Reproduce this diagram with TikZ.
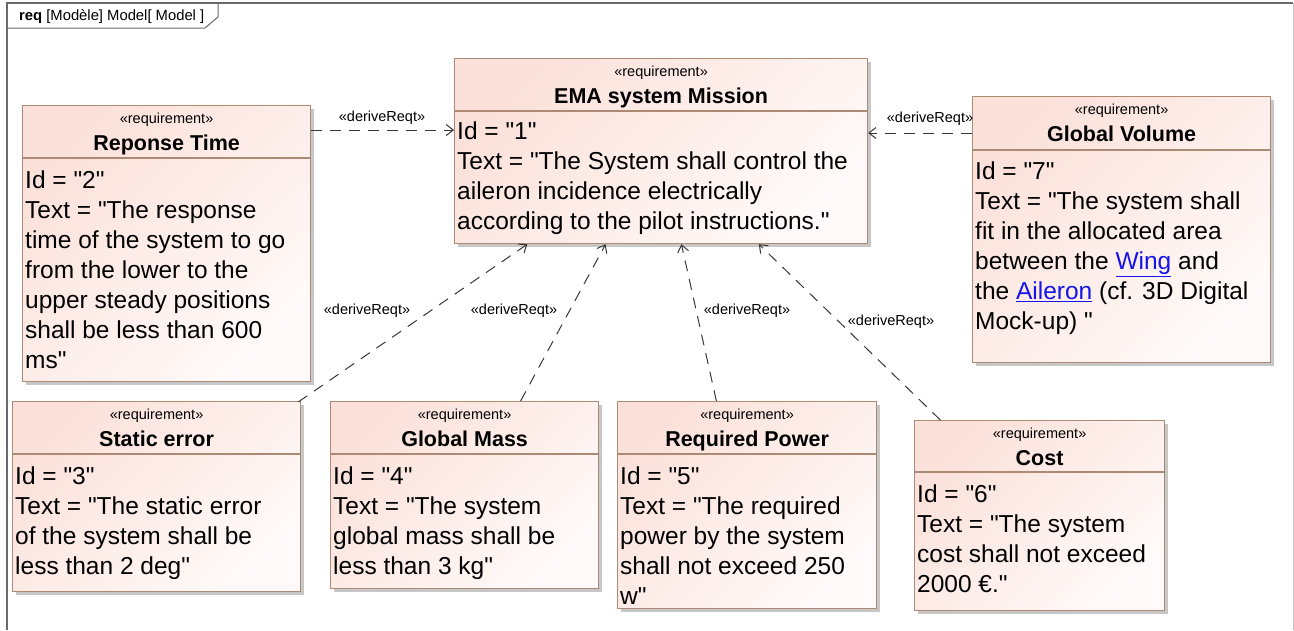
\documentclass[tikz,border=0pt]{standalone}
\usepackage{fontspec}
\setmainfont{Liberation Sans}[Ligatures=TeXOff]
\usetikzlibrary{arrows.meta, positioning, shadows, calc}

\definecolor{reqpink}{RGB}{251,225,218}
\definecolor{reqpale}{RGB}{255,250,249}
\definecolor{reqedge}{RGB}{172,138,116}
\definecolor{linkgray}{RGB}{55,55,55}
\definecolor{framegray}{RGB}{105,105,105}
\definecolor{hyperblue}{RGB}{20,20,235}

\tikzset{
  reqbox/.style={draw=reqedge, line width=1.2pt, top color=reqpink,
    bottom color=reqpale, shading angle=45, anchor=north west, inner sep=0pt,
    drop shadow={shadow xshift=3pt, shadow yshift=-3pt, fill=black!22, opacity=1}},
  divider/.style={draw=reqedge, line width=1.2pt},
  stereo/.style={anchor=base, inner sep=0pt, font=\fontsize{14.5}{16}\selectfont},
  rtitle/.style={anchor=base, inner sep=0pt, font=\bfseries\fontsize{21.5}{24}\selectfont},
  rbody/.style={anchor=north west, inner sep=0pt, align=left,
    font=\fontsize{24.5}{30}\selectfont, execute at begin node=\strut},
  derive/.style={draw=linkgray, line width=1pt, dash pattern=on 11pt off 8pt,
    -{Straight Barb[length=7pt,width=11pt]}},
  lbl/.style={inner sep=1pt, font=\fontsize{14.5}{16}\selectfont}
}

\newcommand{\hlink}[1]{\textcolor{hyperblue}{\underline{#1}}}

\begin{document}
\begin{tikzpicture}[x=1pt, y=-1pt]
  \useasboundingbox (0,0) rectangle (1294,630);

  % diagram frame and its tab
  \draw[framegray, line width=1.6pt] (7,630) -- (7,3) -- (1293,3);
  \draw[black!22, line width=1pt] (1293,3) -- (1293,630);
  \draw[framegray, line width=1pt] (7,28) -- (205,28) -- (218,17) -- (218,3);
  \node[anchor=base west, inner sep=0pt, font=\fontsize{14.8}{16}\selectfont] (hdr) at (19,20)
    {\textbf{req} [Modèle] Model[ Model ]};

  % EMA system Mission
  \node[reqbox, minimum width=413pt, minimum height=185pt] (ema) at (454,58) {};
  \draw[divider] ($(ema.north west)+(0,53)$) -- ($(ema.north east)+(0,53)$);
  \node[stereo] (emaS) at ($(ema.north)+(0,18)$) {«requirement»};
  \node[rtitle] (emaT) at ($(ema.north)+(0,45)$) {EMA system Mission};
  \node[rbody] (emaB) at ($(ema.north west)+(3,64)$)
    {Id = "1"\\Text = "The System shall control the\\aileron incidence electrically\\according to the pilot instructions."};

  % Reponse Time
  \node[reqbox, minimum width=288pt, minimum height=276pt] (rt) at (22,105) {};
  \draw[divider] ($(rt.north west)+(0,53)$) -- ($(rt.north east)+(0,53)$);
  \node[stereo] (rtS) at ($(rt.north)+(0,18)$) {«requirement»};
  \node[rtitle] (rtT) at ($(rt.north)+(0,45)$) {Reponse Time};
  \node[rbody] (rtB) at ($(rt.north west)+(3,66)$)
    {Id = "2"\\Text = "The response\\time of the system to go\\from the lower to the\\upper steady positions\\shall be less than 600\\ms"};

  % Global Volume
  \node[reqbox, minimum width=298pt, minimum height=266pt] (gv) at (972,96) {};
  \draw[divider] ($(gv.north west)+(0,54)$) -- ($(gv.north east)+(0,54)$);
  \node[stereo] (gvS) at ($(gv.north)+(0,18)$) {«requirement»};
  \node[rtitle] (gvT) at ($(gv.north)+(0,45)$) {Global Volume};
  \node[rbody] (gvB) at ($(gv.north west)+(3,66)$)
    {Id = "7"\\Text = "The system shall\\fit in the allocated area\\between the \hlink{Wing} and\\the \hlink{Aileron} (cf. 3D Digital\\Mock-up) "};

  % Static error
  \node[reqbox, minimum width=288pt, minimum height=190pt] (se) at (12,401) {};
  \draw[divider] ($(se.north west)+(0,53)$) -- ($(se.north east)+(0,53)$);
  \node[stereo] (seS) at ($(se.north)+(0,18)$) {«requirement»};
  \node[rtitle] (seT) at ($(se.north)+(0,45)$) {Static error};
  \node[rbody] (seB) at ($(se.north west)+(3,66)$)
    {Id = "3"\\Text = "The static error\\of the system shall be\\less than 2 deg"};

  % Global Mass
  \node[reqbox, minimum width=268pt, minimum height=187pt] (gm) at (330,401) {};
  \draw[divider] ($(gm.north west)+(0,53)$) -- ($(gm.north east)+(0,53)$);
  \node[stereo] (gmS) at ($(gm.north)+(0,18)$) {«requirement»};
  \node[rtitle] (gmT) at ($(gm.north)+(0,45)$) {Global Mass};
  \node[rbody] (gmB) at ($(gm.north west)+(3,66)$)
    {Id = "4"\\Text = "The system\\global mass shall be\\less than 3 kg"};

  % Required Power
  \node[reqbox, minimum width=259pt, minimum height=207pt] (rp) at (617,401) {};
  \draw[divider] ($(rp.north west)+(0,53)$) -- ($(rp.north east)+(0,53)$);
  \node[stereo] (rpS) at ($(rp.north)+(0,18)$) {«requirement»};
  \node[rtitle] (rpT) at ($(rp.north)+(0,45)$) {Required Power};
  \node[rbody] (rpB) at ($(rp.north west)+(3,66)$)
    {Id = "5"\\Text = "The required\\power by the system\\shall not exceed 250\\w"};

  % Cost
  \node[reqbox, minimum width=250pt, minimum height=190pt] (cost) at (914,420) {};
  \draw[divider] ($(cost.north west)+(0,52)$) -- ($(cost.north east)+(0,52)$);
  \node[stereo] (costS) at ($(cost.north)+(0,18)$) {«requirement»};
  \node[rtitle] (costT) at ($(cost.north)+(0,45)$) {Cost};
  \node[rbody] (costB) at ($(cost.north west)+(3,65)$)
    {Id = "6"\\Text = "The system\\cost shall not exceed\\2000 €."};

  % deriveReqt links
  \draw[derive] ($(rt.north east)+(0,25)$) -- ($(ema.north west)+(0,72)$);
  \draw[derive] ($(gv.north west)+(0,37)$) -- ($(ema.north east)+(0,75)$);
  \draw[derive] ($(se.north east)+(-3,1)$) -- ($(ema.south west)!0.177!(ema.south east)$);
  \draw[derive] ($(gm.north west)!0.708!(gm.north east)$) -- ($(ema.south west)!0.366!(ema.south east)$);
  \draw[derive] ($(rp.north west)!0.382!(rp.north east)$) -- ($(ema.south west)!0.549!(ema.south east)$);
  \draw[derive] ($(cost.north west)!0.105!(cost.north east)$) -- ($(ema.south west)!0.736!(ema.south east)$);

  \node[lbl] (lRT) at (382,118) {«deriveReqt»};
  \node[lbl] (lGV) at (930,119) {«deriveReqt»};
  \node[lbl] (lSE) at (367,311) {«deriveReqt»};
  \node[lbl] (lGM) at (514,311) {«deriveReqt»};
  \node[lbl] (lRP) at (747,311) {«deriveReqt»};
  \node[lbl] (lCost) at (891,322) {«deriveReqt»};
\end{tikzpicture}
\end{document}
